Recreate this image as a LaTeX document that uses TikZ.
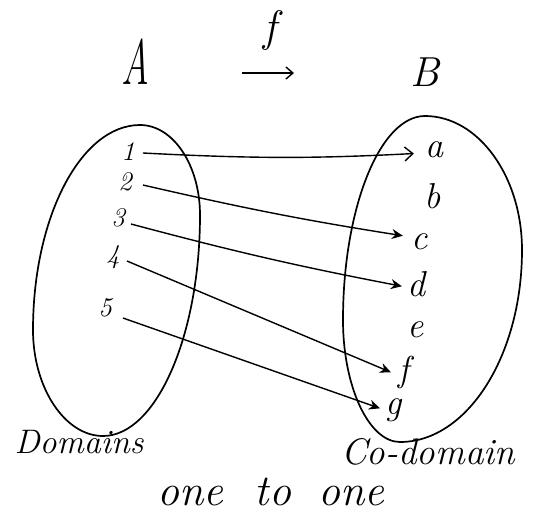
\documentclass[tikz,border=0pt]{standalone}
\usepackage{fontspec}
\usepackage{graphicx}
\usetikzlibrary{arrows.meta}
\begin{document}
\begin{tikzpicture}[x=1pt,y=-1pt,
  setline/.style={line width=1.7pt,line join=round},
  digit/.style={font=\fontsize{27}{29}\selectfont\itshape,inner sep=1pt},
  elem/.style={font=\fontsize{36}{38}\selectfont\itshape,inner sep=1pt},
  map/.style={line width=1.4pt,-{Stealth[length=11pt,width=10pt]}},
  openmap/.style={line width=1.4pt,-{Straight Barb[length=8pt,width=14pt]}},
]
\path[use as bounding box] (0,0) rectangle (533,517);
% headings
\node[font=\fontsize{64}{66}\selectfont\itshape,inner sep=0pt] (A) at (135,62) {\scalebox{0.6}[1]{A}};
\node[font=\fontsize{42}{44}\selectfont\itshape,inner sep=0pt] (B) at (425,72) {B};
\node[font=\fontsize{44}{46}\selectfont\itshape,inner sep=0pt] (fl) at (270,30) {f};
\coordinate (fs) at (242,73);
\coordinate (fe) at (294,73);
\draw[line width=1.4pt,-{Straight Barb[length=7pt,width=12pt]}] (fs) -- (fe);
% set A (domain)
\draw[setline] (140,125) .. controls (173,125) and (200,165) .. (200,215)
  .. controls (200,336) and (156,436) .. (103,436)
  .. controls (65,436) and (33,388) .. (33,330)
  .. controls (33,217) and (81,125) .. (140,125) -- cycle;
% set B (co-domain)
\draw[setline] (425,116) .. controls (478,116) and (522,176) .. (522,250)
  .. controls (522,356) and (467,442) .. (400,442)
  .. controls (369,442) and (343,387) .. (343,320)
  .. controls (343,208) and (380,116) .. (425,116) -- cycle;
% domain elements
\node[digit] (n1) at (128,152) {1};
\node[digit] (n2) at (125,182) {2};
\node[digit] (n3) at (118,218) {3};
\node[digit] (n4) at (113,257) {4};
\node[digit] (n5) at (105,308) {5};
% codomain elements
\node[elem] (ea) at (434,150) {a};
\node[elem] (eb) at (433,196) {b};
\node[elem] (ec) at (420,242) {c};
\node[elem] (ed) at (416,284) {d};
\node[elem] (ee) at (416,330) {e};
\node[elem] (ef) at (404,372) {f};
\node[elem] (eg) at (394,410) {g};
% mappings
\draw[openmap,shorten >=10pt] (n1.east) ++(7,1) coordinate (s1) (s1) to[bend right=3] ([yshift=-3pt]ea.west);
\draw[map,shorten >=8pt] (n2.east) ++(10,3) coordinate (s2) (s2) to[bend right=2] ([yshift=5pt]ec.west);
\draw[map,shorten >=4pt] (n3.east) ++(5,6) coordinate (s3) (s3) to[bend right=2] ([yshift=-3pt]ed.west);
\draw[map,shorten >=7pt] (n4.east) ++(6,4) coordinate (s4) (s4) -- ([yshift=-3pt]ef.west);
\draw[map,shorten >=5pt] (n5.east) ++(10,10) coordinate (s5) (s5) -- (eg.west);
% captions
\node[font=\fontsize{34}{36}\selectfont\itshape,inner sep=0pt] (dom) at (79,442) {Domains};
\node[font=\fontsize{37}{39}\selectfont\itshape,inner sep=0pt] (cod) at (428,452) {Co-domain};
\node[font=\fontsize{44}{46}\selectfont\itshape,inner sep=0pt] (oto) at (271,492) {one\hspace{16pt} to\hspace{12pt} one};
\end{tikzpicture}
\end{document}
